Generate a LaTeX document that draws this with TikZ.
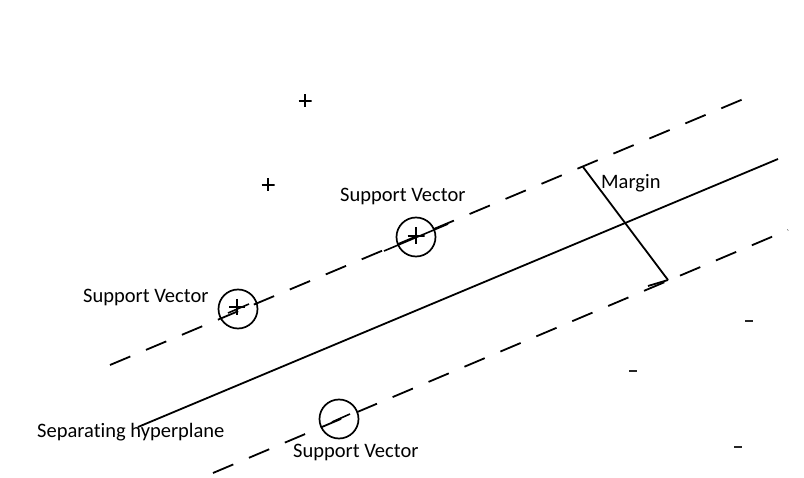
\documentclass[tikz,border=0pt]{standalone}
\usepackage{fontspec}
\setmainfont[Ligatures=NoCommon]{Carlito}
\usetikzlibrary{calc}
\begin{document}
\begin{tikzpicture}[x=1pt,y=-1pt,
  lbl/.style={font=\fontsize{20.5}{22}\selectfont, inner sep=0pt, anchor=west},
  dashln/.style={line width=1.8pt, dash pattern=on 22pt off 17pt},
  solidln/.style={line width=1.8pt},
  sv/.style={circle, draw, line width=1.7pt, minimum size=39pt, inner sep=0pt},
  ptplus/.style={minimum size=#1, inner sep=0pt, path picture={
     \draw[line width=1.3pt] (path picture bounding box.north) -- (path picture bounding box.south)
       (path picture bounding box.west) -- (path picture bounding box.east);}},
  ptminus/.style={minimum width=8pt, minimum height=2pt, inner sep=0pt, fill=black!85}
]
\useasboundingbox (0,0) rectangle (804,478);
% separating hyperplane
\coordinate (h1) at (138,427);
\coordinate (h2) at (778,159);
\draw[solidln] (h1) -- (h2);
% upper margin
\coordinate (u1) at (110,365);
\coordinate (u2) at (753,95);
\draw[dashln] (u1) -- (u2);
% lower margin
\coordinate (l1) at (213,473);
\coordinate (l2) at (788,230);
\draw[dashln] (l1) -- (l2);
% margin line
\coordinate (m1) at (583,167);
\coordinate (m2) at (668,280);
\draw[solidln] (m1) -- (m2);
\coordinate (m3) at (648,286);
\draw[solidln] (m2) -- (m3);
% support vectors
\node[sv] (sv1) at (238,309) {};
\node[sv] (sv2) at (416,237) {};
\node[sv] (sv3) at (339,419) {};
\node[ptplus=16pt] (p1) at (237,307) {};
\node[ptplus=17pt] (p2) at (416,236) {};
\draw[line width=1.6pt] ($(sv1)+(-10,4)$) -- ($(sv1)+(11,-5)$);
\draw[line width=1.6pt] ($(sv2)+(-32,14)$) -- ($(sv2)+(32,-13)$);
\draw[line width=1.6pt] ($(sv3)+(-7,3)$) -- ($(sv3)+(11,-5)$);
% loose points
\node[ptplus=13pt] (a1) at (305,101) {};
\node[ptplus=13pt] (a2) at (268,185) {};
\node[ptminus] (b1) at (749,321) {};
\node[ptminus] (b2) at (633,371) {};
\node[ptminus] (b3) at (738,447) {};
% labels
\node[lbl] (t1) at (340,197) {Support Vector};
\node[lbl] (t2) at (83,298) {Support Vector};
\node[lbl] (t3) at (293,453) {Support Vector};
\node[lbl] (t4) at (601,183) {Margin};
\node[lbl] (t5) at (37,432) {Separating hyperplane};
\end{tikzpicture}
\end{document}
